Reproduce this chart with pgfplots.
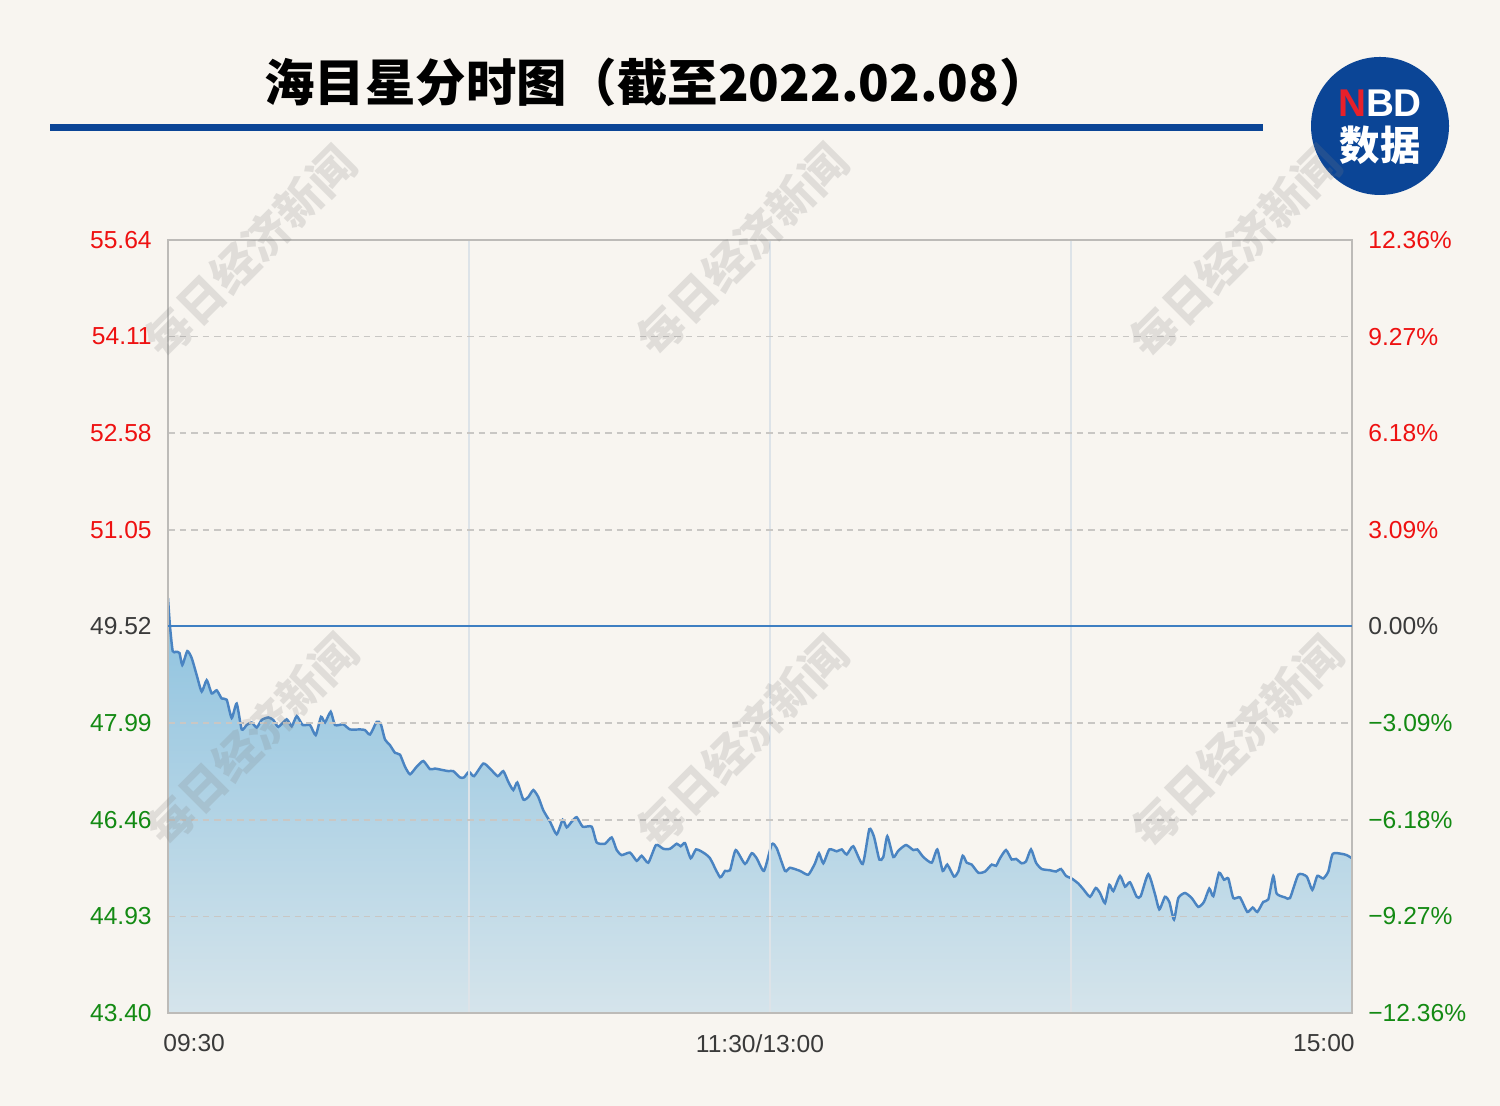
\documentclass[border=0pt]{standalone}
\usepackage{pgfplots}
\pgfplotsset{compat=1.18}
\usepackage{pgfplotstable}
\usepackage{fontspec}
\setmainfont{Liberation Sans}
\newfontfamily\cjk{Noto Sans CJK SC}
\definecolor{bg}{HTML}{F8F5F0}
\definecolor{titleblue}{HTML}{0B4596}
\definecolor{logoblue}{HTML}{0B4596}
\definecolor{nbdred}{HTML}{E8202A}
\definecolor{upred}{HTML}{EE1111}
\definecolor{downgreen}{HTML}{138A13}
\definecolor{flatgray}{HTML}{3A3A3A}
\definecolor{lineblue}{HTML}{4A84C2}
\definecolor{baseblue}{HTML}{3F7FC2}
\definecolor{filltop}{HTML}{8DC2DF}
\definecolor{fillbot}{HTML}{D5E4EB}
\definecolor{framegray}{HTML}{BDBBB8}
\definecolor{dashgray}{HTML}{C9C7C4}
\definecolor{vgrid}{HTML}{DDE3E8}

\pgfplotstableread{
x y
0 49.97
2 49.52
4.7 49.13
8 49.12
11.5 49.10
14.3 48.91
19.3 49.13
23.7 49.02
28.7 48.75
33.7 48.49
38.7 48.67
43.7 48.46
48.7 48.51
53.7 48.38
58.7 48.36
63.7 48.07
68.7 48.30
73.7 47.89
78.7 47.96
83.7 48.00
88.7 47.92
93.7 48.04
100.3 48.08
105.3 48.04
110.3 47.93
118.7 48.05
123.7 47.94
128.7 48.10
134.7 47.96
142 47.96
147.7 47.80
153 48.09
157 48.00
162.7 48.17
167 47.96
175.3 47.97
182 47.89
192 47.89
197 47.88
202 47.81
208.7 48.01
212.7 47.98
217 47.73
222 47.64
227 47.52
232 47.49
237 47.30
242 47.18
248.7 47.30
255.3 47.39
262 47.26
267 47.27
273.7 47.25
280.3 47.23
285.3 47.23
292 47.13
296 47.13
301 47.22
306 47.15
315.3 47.35
322 47.27
329.7 47.15
335.3 47.23
340.3 47.06
345.3 46.93
349.3 47.05
355.3 46.78
360.3 46.82
365.3 46.93
370.3 46.82
375.3 46.61
382 46.43
388.7 46.23
394.7 46.46
398.7 46.34
403.7 46.43
408.7 46.50
414.7 46.35
423.7 46.35
428.7 46.10
437 46.08
443.7 46.18
448.7 45.98
453.7 45.90
462 45.94
468.7 45.81
473.7 45.89
480.3 45.78
488 46.06
495.3 46.00
502 46.00
508.7 46.08
512.7 46.04
517 46.09
522.7 45.85
528 45.99
535.3 45.94
542 45.85
552 45.55
557 45.65
562 45.66
567.7 45.98
577 45.76
583.7 45.93
588.7 45.85
596 45.65
603.7 46.07
608.7 46.01
617 45.65
622 45.70
632 45.65
640.3 45.59
647 45.77
651 45.93
655.3 45.77
661.3 45.99
668.7 45.96
673.7 45.99
678.7 45.91
685.3 46.04
694.7 45.76
701.3 46.31
706 46.19
711.3 45.83
715.3 45.87
719.3 46.20
725.3 45.87
730.3 45.97
738 46.06
745.3 45.98
749.3 45.99
755.3 45.87
763.7 45.78
769.3 45.99
774.7 45.65
779.3 45.75
786 45.56
790.3 45.64
794.7 45.89
798.7 45.78
803.7 45.75
810.3 45.62
817 45.64
823.7 45.75
828 45.73
832 45.85
838 45.98
843.7 45.83
848 45.84
853.7 45.77
858 45.80
863 45.99
868 45.78
873.7 45.68
882 45.66
888 45.64
893 45.68
898 45.57
903.7 45.53
910.3 45.45
915.3 45.36
922 45.24
927.7 45.38
932 45.30
937 45.14
941.3 45.43
945.3 45.33
952 45.57
957 45.40
962 45.47
968.7 45.24
972.7 45.25
980.3 45.60
987 45.28
991.3 45.04
997 45.24
1001.3 45.16
1006 44.88
1010.3 45.22
1017 45.30
1023.7 45.22
1030.3 45.08
1036 45.16
1041.3 45.37
1045.3 45.25
1051 45.62
1056 45.51
1060.3 45.53
1065.3 45.22
1072 45.23
1079.3 45.00
1084.7 45.07
1089.3 45.00
1095.3 45.16
1100.3 45.20
1105.3 45.57
1108.7 45.29
1117 45.23
1122 45.22
1130.3 45.59
1138.7 45.56
1144.3 45.35
1149.3 45.57
1155.3 45.53
1160.3 45.64
1164.7 45.92
1173.7 45.92
1178.7 45.90
1184 45.85
}\pricedata

\begin{document}
\begin{tikzpicture}
\fill[bg] (0,0) rectangle (30,22.12);
\useasboundingbox (0,0) rectangle (30,22.12);

% title
\node[font=\cjk\bfseries\fontsize{28.7}{30}\selectfont, inner sep=0] at (13.14,20.48) {海目星分时图（截至2022.02.08）};
\fill[titleblue] (1.0,19.49) rectangle (25.26,19.63);

% logo
\fill[logoblue] (27.6,19.6) circle (1.38);
\node[font=\bfseries\fontsize{22}{24}\selectfont, text=white, inner sep=0] at (27.6,20.06) {\textcolor{nbdred}{N}BD};
\node[font=\cjk\bfseries\fontsize{23}{25}\selectfont, text=white, inner sep=0] at (27.6,19.22) {数据};

\begin{axis}[
  at={(3.36cm,1.86cm)}, anchor=south west,
  width=23.68cm, height=15.46cm, scale only axis,
  xmin=0, xmax=1184, ymin=43.40, ymax=55.64,
  xtick={301,602,903}, xticklabels={},
  ytick={43.40,44.93,46.46,47.99,51.05,52.58,54.11,55.64}, yticklabels={},
  major tick length=0pt,
  xmajorgrids, ymajorgrids,
  x grid style={draw=vgrid, line width=0.8pt},
  y grid style={draw=dashgray, line width=0.9pt, dash pattern=on 0.13cm off 0.1cm},
  axis line style={draw=framegray, line width=1.2pt},
  axis on top,
]
\addplot[draw=none, top color=filltop, bottom color=fillbot] table[x=x,y=y] {\pricedata} -- (axis cs:1184,43.40) -- (axis cs:0,43.40) -- cycle;
\addplot[lineblue, line width=1.4pt, smooth, tension=0.35] table[x=x,y=y] {\pricedata};
\end{axis}

% previous close line
\draw[baseblue, line width=1.1pt] (3.36,9.592) -- (27.04,9.592);

% y labels (axis from y=1.86 to 17.32, step 1.9325)
\begin{scope}[font=\fontsize{14}{16}\selectfont]
\foreach \i/\v/\t/\c in {0/43.40/\textminus12.36\%/downgreen, 1/44.93/\textminus9.27\%/downgreen, 2/46.46/\textminus6.18\%/downgreen, 3/47.99/\textminus3.09\%/downgreen, 4/49.52/0.00\%/flatgray, 5/51.05/3.09\%/upred, 6/52.58/6.18\%/upred, 7/54.11/9.27\%/upred, 8/55.64/12.36\%/upred}{
  \node[anchor=east, inner sep=0, text=\c] at (3.04,{1.86+\i*1.9325}) {\v};
  \node[anchor=west, inner sep=0, text=\c] at (27.36,{1.86+\i*1.9325}) {\t};
}
\node[anchor=north west, inner sep=0, text=flatgray] at (3.26,1.44) {09:30};
\node[anchor=north, inner sep=0, text=flatgray] at (15.2,1.44) {11:30/13:00};
\node[anchor=north east, inner sep=0, text=flatgray] at (27.1,1.44) {15:00};
\end{scope}

% watermarks
\foreach \x/\y in {250/252, 742/250, 1235/252, 252/740, 742/742, 1237/742}{
  \node[rotate=45, font=\cjk\bfseries\fontsize{26}{28}\selectfont, text=gray, opacity=0.2, inner sep=0] at ({\x*0.02},{(1106-\y)*0.02}) {每日经济新闻};
}
\end{tikzpicture}
\end{document}
